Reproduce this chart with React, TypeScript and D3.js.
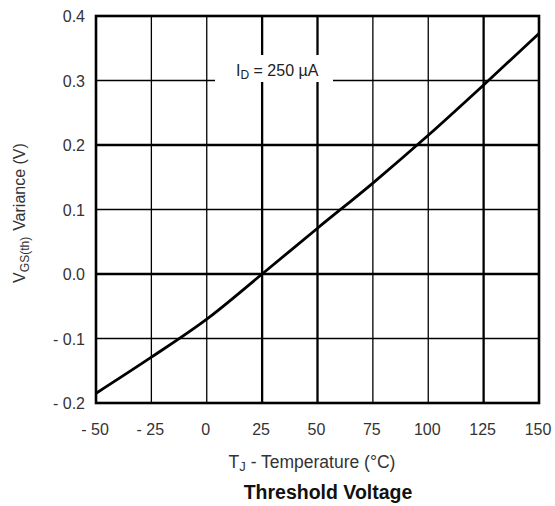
import React from "react";
import * as d3 from "d3";

const xTicks = [-50, -25, 0, 25, 50, 75, 100, 125, 150];
const xTickLabels = ["- 50", "- 25", "0", "25", "50", "75", "100", "125", "150"];
const yTicks = [-0.2, -0.1, 0.0, 0.1, 0.2, 0.3, 0.4];
const yTickLabels = ["- 0.2", "- 0.1", "0.0", "0.1", "0.2", "0.3", "0.4"];
const thickX = [25, 50, 125];
const thickY = [0.0, 0.2];
const temps = [-50, -25, 0, 25, 50, 75, 100, 125, 150];
const variance = [-0.185, -0.129, -0.07, 0.0, 0.071, 0.141, 0.215, 0.293, 0.373];

export default function App() {
  const W = 555, H = 506;
  const x = d3.scaleLinear().domain([-50, 150]).range([96, 539]);
  const y = d3.scaleLinear().domain([-0.2, 0.4]).range([403, 16]);
  const line = d3.line<number>().x((_, i) => x(temps[i])).y((d) => y(d)).curve(d3.curveMonotoneX);
  const font = "Liberation Sans, Arial, sans-serif";
  return (
    <svg width={W} height={H} style={{ position: "absolute", left: 0, top: 0 }}>
      <rect width={W} height={H} fill="#fff" />
      {xTicks.slice(1, -1).map((t) => (
        <line key={"vx" + t} x1={x(t)} x2={x(t)} y1={y(0.4)} y2={y(-0.2)} stroke="#000"
          strokeWidth={thickX.includes(t) ? 2.3 : 1.3} />
      ))}
      {yTicks.slice(1, -1).map((t) => (
        <line key={"hy" + t} x1={x(-50)} x2={x(150)} y1={y(t)} y2={y(t)} stroke="#000"
          strokeWidth={thickY.includes(t) ? 2.3 : 1.3} />
      ))}
      <rect x={215} y={55} width={118} height={27} fill="#fff" />
      <text x={236} y={76} fontFamily={font} fontSize={16} fill="#222">
        I<tspan fontSize={12} dy={3}>D</tspan><tspan dy={-3}> = 250 µA</tspan>
      </text>
      <path d={line(variance) || ""} fill="none" stroke="#000" strokeWidth={2.8} />
      <rect x={x(-50)} y={y(0.4)} width={x(150) - x(-50)} height={y(-0.2) - y(0.4)} fill="none" stroke="#000" strokeWidth={2.6} />
      {yTicks.map((t, i) => (
        <text key={"yl" + t} x={85} y={y(t) + 6} textAnchor="end" fontFamily={font} fontSize={16} fill="#333">
          {yTickLabels[i]}
        </text>
      ))}
      {xTicks.map((t, i) => (
        <text key={"xl" + t} x={x(t) - 1} y={435} textAnchor="middle" fontFamily={font} fontSize={16} fill="#333">
          {xTickLabels[i]}
        </text>
      ))}
      <text x={312} y={468} textAnchor="middle" fontFamily={font} fontSize={17.5} fill="#333">
        T<tspan fontSize={13} dy={3}>J</tspan><tspan dy={-3}> - Temperature (°C)</tspan>
      </text>
      <text x={328} y={499} textAnchor="middle" fontFamily={font} fontSize={19.5} fontWeight="bold" fill="#111">
        Threshold Voltage
      </text>
      <text transform="translate(25,213) rotate(-90)" textAnchor="middle" fontFamily={font} fontSize={16} fill="#333">
        V<tspan fontSize={12} dy={4}>GS(th)</tspan><tspan dy={-4} dx={6}>Variance (V)</tspan>
      </text>
    </svg>
  );
}
